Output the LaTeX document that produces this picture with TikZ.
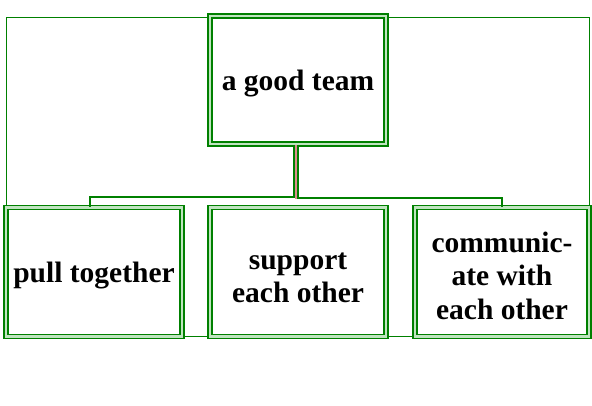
\documentclass[tikz,border=0pt]{standalone}
\usepackage{fontspec}
\setmainfont{Liberation Serif}
\usetikzlibrary{positioning, calc}
\definecolor{teamgreen}{RGB}{0, 128, 0}
\definecolor{palegreen}{RGB}{150, 210, 150}
\definecolor{pinkline}{RGB}{220, 140, 140}
\newcommand{\lowstrut}{\rule{0pt}{28pt}}

\begin{document}
\begin{tikzpicture}[x=1pt, y=-1pt,
    box/.style={draw=teamgreen, line width=1.6pt, double=palegreen!60!white, double distance=2.2pt,
        fill=white, align=center, inner sep=0pt,
        font=\fontsize{29.5}{33.5}\selectfont\bfseries},
    link/.style={draw=teamgreen, line width=1.8pt},
    frame/.style={draw=teamgreen, line width=1pt}]
        \useasboundingbox (0,0) rectangle (592,405);

        % Outer frame
        \draw[frame] (6,17) rectangle (589,336);

        % Top box
        \node[box, minimum width=176pt, minimum height=128pt] (top) at (298,80) {\lowstrut a good team};

        % Bottom boxes
        \node[box, minimum width=176pt, minimum height=129pt] (pull) at (94,272) {\lowstrut pull together};
        \node[box, minimum width=176pt, minimum height=129pt] (support) at (298,272) {\lowstrut support\\each other};
        \node[box, minimum width=174pt, minimum height=129pt] (comm) at (502,272) {\lowstrut communic-\\ate with\\each other};

        % Connectors
        \coordinate (jl) at (294,197);
        \coordinate (jr) at (298,198);
        \coordinate (jm) at (296,199);
        \draw[link] (top.south -| jl) -- (jl) -| ([xshift=-4pt]pull.north);
        \draw[link] (top.south -| jr) -- (jr) -| (comm.north);
        \draw[pinkline, line width=1.2pt] (top.south -| jm) -- (jm);
    \end{tikzpicture}
\end{document}
